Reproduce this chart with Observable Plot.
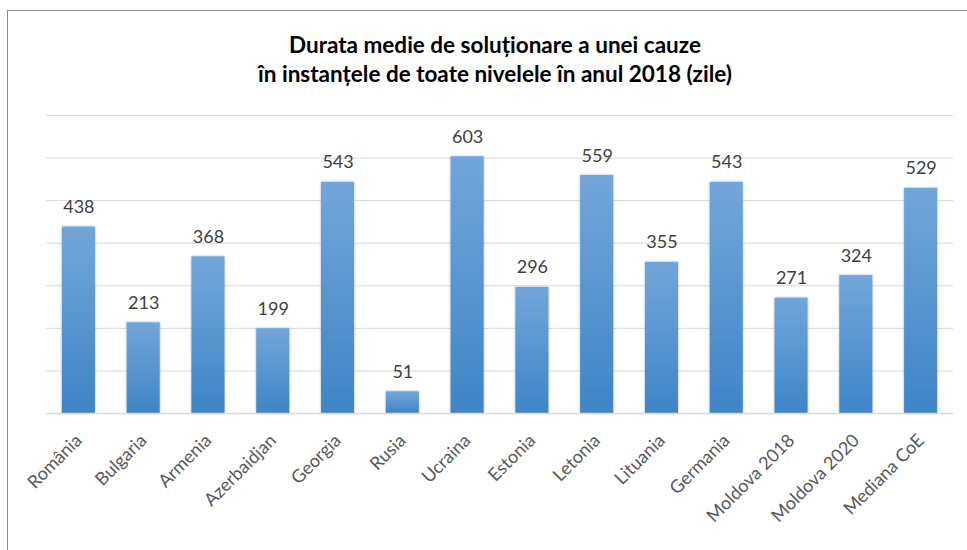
<!DOCTYPE html>
<html><head><meta charset="utf-8">
<script src="https://cdn.jsdelivr.net/npm/d3@7"></script>
<script src="https://cdn.jsdelivr.net/npm/@observablehq/plot@0.6"></script>
<style>
body{margin:0;background:#fff;font-family:Lato,"Open Sans",sans-serif;overflow:hidden;}
#frame{position:absolute;left:7px;top:10px;width:1000px;height:600px;border-left:1px solid #8c8c8c;border-top:1px solid #8c8c8c;}
#title{position:absolute;left:0;top:30px;width:990px;text-align:center;font-weight:bold;font-size:22.5px;line-height:29px;color:#000;}
#chart{position:absolute;left:0;top:100px;}
</style>
</head><body>
<div id="frame"></div>
<div id="title">Durata medie de soluționare a unei cauze<br>în instanțele de toate nivelele în anul 2018 (zile)</div>
<div id="chart"></div>
<script>
const categories = ["România","Bulgaria","Armenia","Azerbaidjan","Georgia","Rusia","Ucraina","Estonia","Letonia","Lituania","Germania","Moldova 2018","Moldova 2020","Mediana CoE"];
const values = [438,213,368,199,543,51,603,296,559,355,543,271,324,529];
const gridValues = [100,200,300,400,500,600,700];

const data = categories.map((c,i)=>({cat:c, v:values[i]}));

const plot = Plot.plot({
  width: 967,
  height: 450,
  marginTop: 15,
  marginBottom: 137,
  marginLeft: 46,
  marginRight: 14,
  style: {fontFamily: "Lato, 'Open Sans', sans-serif", background: "transparent"},
  x: {domain: categories, paddingInner: 0.49, paddingOuter: 0.245, round: false, label: null},
  y: {domain: [0,700], axis: null},
  marks: [
    Plot.ruleY(gridValues, {stroke: "#d9d9d9", strokeWidth: 1}),
    Plot.barY(data, {x: "cat", y: "v", fill: "url(#barGrad)"}),
    Plot.ruleY([0], {stroke: "#d9d9d9", strokeWidth: 1.5}),
    Plot.text(data, {x: "cat", y: "v", text: d => String(d.v), dy: -14, lineAnchor: "bottom", fontSize: 18, fill: "#404040"}),
    Plot.axisX({tickSize: 0, tickPadding: 24, tickRotate: -45, fontSize: 18, fill: "#595959", label: null})
  ]
});

const svg = d3.select(plot);
const defs = svg.insert("defs", ":first-child");
const g = defs.append("linearGradient").attr("id","barGrad").attr("x1",0).attr("y1",0).attr("x2",0).attr("y2",1);
g.append("stop").attr("offset","0%").attr("stop-color","#72a6da");
g.append("stop").attr("offset","100%").attr("stop-color","#3e85c7");
const f = defs.append("filter").attr("id","shadow").attr("x","-20%").attr("y","-5%").attr("width","140%").attr("height","110%");
f.append("feDropShadow").attr("dx",0).attr("dy",0).attr("stdDeviation",1.2).attr("flood-color","#000").attr("flood-opacity",0.35);
svg.selectAll("g[aria-label='bar']").attr("filter","url(#shadow)");

document.getElementById("chart").appendChild(plot);
</script>
</body></html>
